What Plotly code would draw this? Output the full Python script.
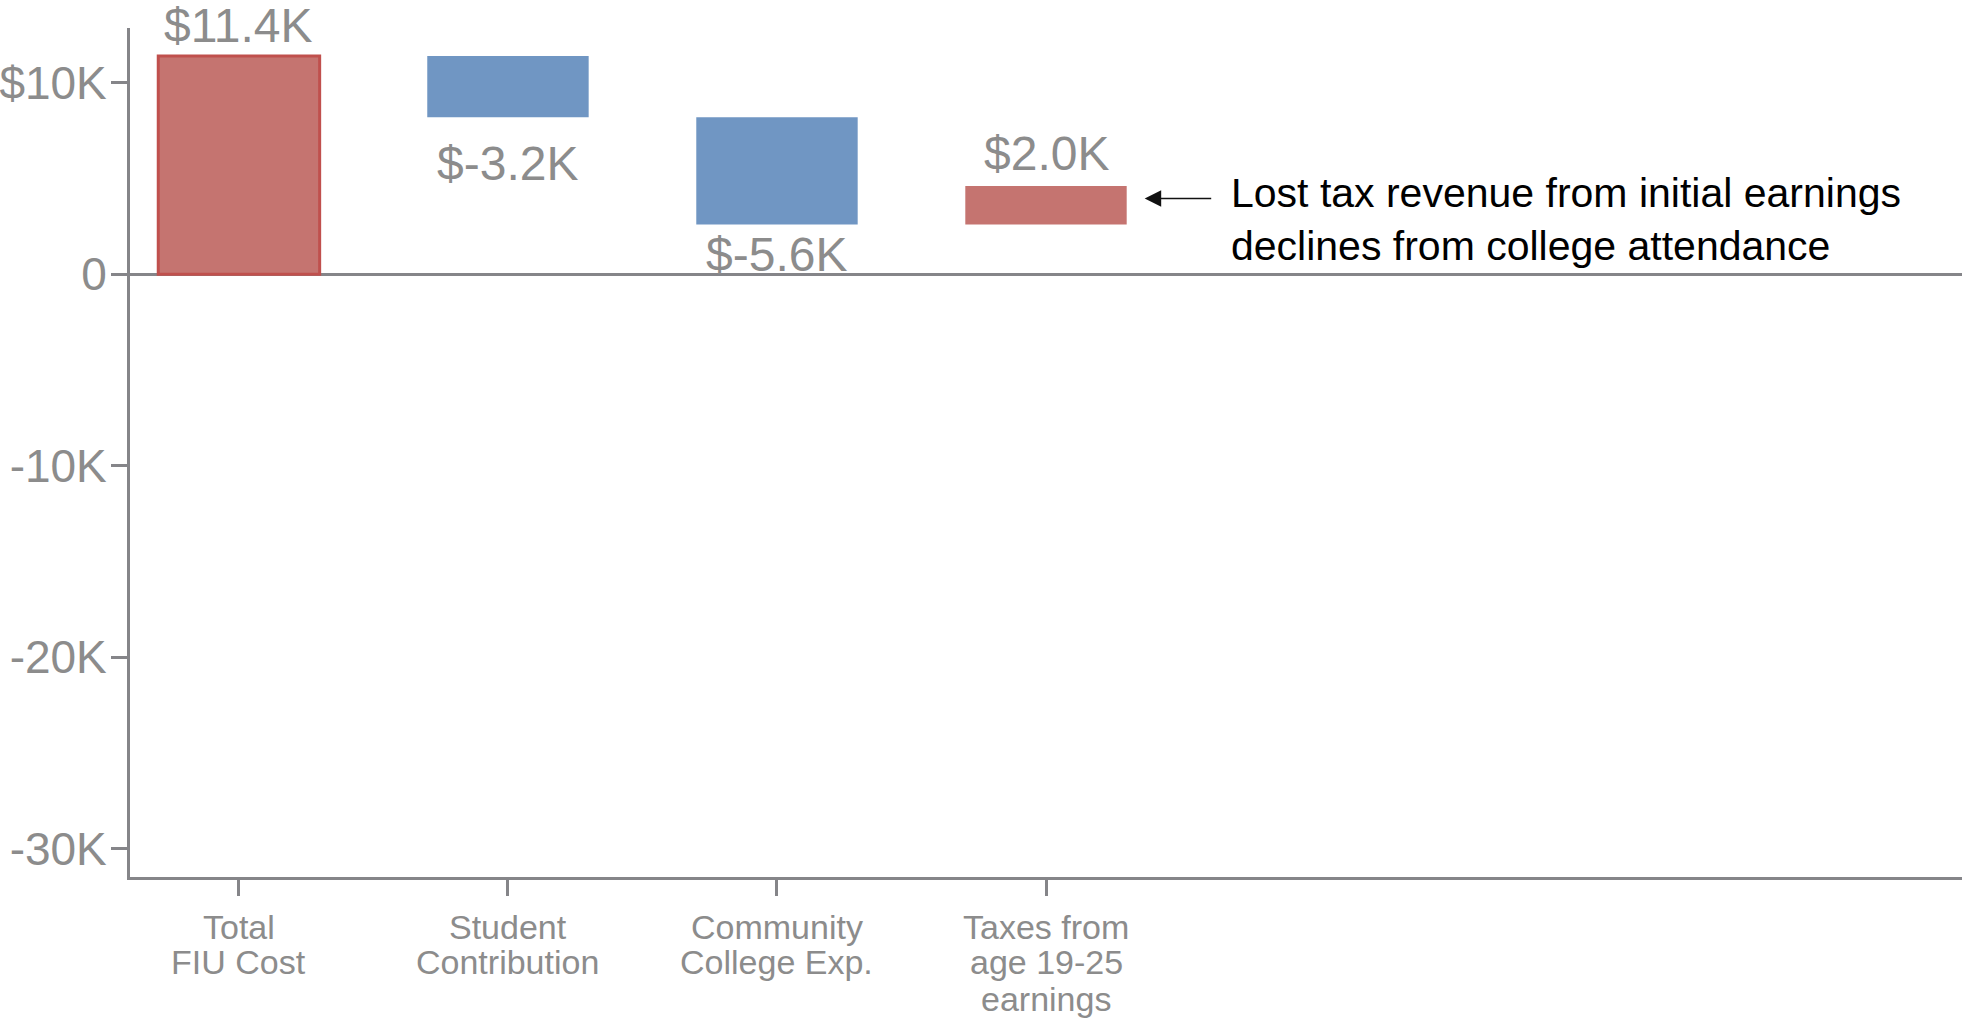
import plotly.graph_objects as go

# Waterfall components (US dollars)
categories = ["Total\nFIU Cost", "Student\nContribution", "Community\nCollege Exp.", "Taxes from\nage 19-25\nearnings"]
amounts = [11400, -3200, -5600, 2000]
measures = ["absolute", "relative", "relative", "relative"]

y_tick_values = [10000, 0, -10000, -20000, -30000]
y_tick_labels = ["$10K", "0", "-10K", "-20K", "-30K"]

note_text = ["Lost tax revenue from initial earnings", "declines from college attendance"]

FONT = "Liberation Sans, Arial, sans-serif"
GREY = "#858589"
LABEL_GREY = "#8c8c8c"
RED = "#c57470"
RED_EDGE = "#c0504d"
BLUE = "#7096c3"

x_pos = list(range(len(categories)))

fig = go.Figure(
    go.Waterfall(
        x=x_pos,
        y=amounts,
        measure=measures,
        width=0.6,
        textinfo="none",
        connector=dict(visible=False),
        totals=dict(marker=dict(color=RED, line=dict(color=RED_EDGE, width=3))),
        increasing=dict(marker=dict(color=RED, line=dict(width=0))),
        decreasing=dict(marker=dict(color=BLUE, line=dict(width=0))),
        hoverinfo="skip",
    )
)

annotations = []

# value labels at the end of each step
running = 0
label_gap = [1.5, 18, 2, 4]
for i, (amt, m) in enumerate(zip(amounts, measures)):
    running = amt if m == "absolute" else running + amt
    up = amt >= 0
    annotations.append(dict(
        x=i, y=running, xref="x", yref="y",
        text=f"${amt / 1000:.1f}K",
        showarrow=False,
        yanchor="bottom" if up else "top",
        yshift=label_gap[i] if up else -label_gap[i],
        font=dict(family=FONT, size=48, color=LABEL_GREY),
    ))

# category labels, one line per annotation for tight line spacing
line_offsets = [0, 35, 72]
for i, cat in enumerate(categories):
    for k, line in enumerate(cat.split("\n")):
        annotations.append(dict(
            x=i, y=0, xref="x", yref="paper",
            text=line, showarrow=False,
            yanchor="middle", yshift=-50 - line_offsets[k],
            font=dict(family=FONT, size=34, color=LABEL_GREY),
        ))

# note with arrow pointing at the taxes bar
annotations.append(dict(
    x=3.3, y=3950, xref="x", yref="y",
    text="", showarrow=True,
    arrowhead=2, arrowsize=2.2, arrowwidth=1.5, arrowcolor="#111111",
    ax=86, ay=0, standoff=18,
))
annotations.append(dict(
    x=0.6, y=0.774, xref="paper", yref="paper",
    text="<br>".join(note_text), showarrow=False,
    xanchor="left", yanchor="middle", align="left",
    font=dict(family=FONT, size=41, color="#000000"),
))

fig.update_layout(
    width=1962, height=1029,
    margin=dict(l=130, r=0, t=28, b=152),
    paper_bgcolor="white", plot_bgcolor="white",
    showlegend=False,
    font=dict(family=FONT, color=LABEL_GREY),
    annotations=annotations,
    xaxis=dict(
        range=[-0.405, 6.405],
        tickvals=x_pos, ticktext=[""] * len(x_pos),
        ticks="outside", ticklen=16, tickwidth=3, tickcolor=GREY,
        showline=True, linecolor=GREY, linewidth=3,
        showgrid=False, zeroline=False, fixedrange=True,
        automargin=False,
    ),
    yaxis=dict(
        range=[-31490, 12860],
        tickvals=y_tick_values, ticktext=y_tick_labels,
        ticks="outside", ticklen=16, tickwidth=3, tickcolor=GREY,
        tickfont=dict(family=FONT, size=46, color=LABEL_GREY),
        ticklabelstandoff=-5,
        showline=True, linecolor=GREY, linewidth=3,
        showgrid=False,
        zeroline=True, zerolinecolor=GREY, zerolinewidth=3,
        fixedrange=True, automargin=False,
    ),
)

fig.write_html("out.html")
